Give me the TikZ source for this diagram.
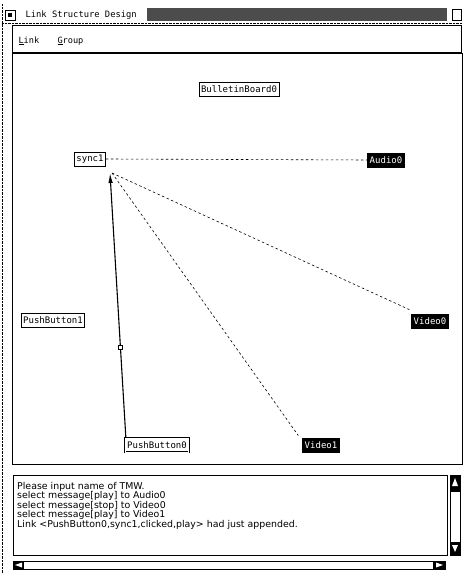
\documentclass[tikz,border=0pt]{standalone}
\usepackage{fontspec}
\setmonofont{DejaVu Sans Mono}
\setsansfont{DejaVu Sans}
\usetikzlibrary{arrows.meta}
\definecolor{noisegray}{gray}{0.3}

\begin{document}
\begin{tikzpicture}
    [x=1pt,y=-1pt,
     obj/.style={draw,line width=0.8pt,inner sep=2pt,minimum height=14pt,
                 font=\ttfamily\fontsize{9}{10}\selectfont},
     media/.style={obj,fill=black,text=white},
     pressed/.style={obj,line width=0.7pt,double,double distance=0.8pt},
     link/.style={line width=0.6pt,dash pattern=on 2.5pt off 2.5pt},
     frame/.style={draw,line width=1pt},
     scrollend/.style={fill=black}]

    \useasboundingbox (0,0) rectangle (463,573);

% window border and title bar
\draw[densely dotted] (2,4) -- (2,573);
\draw[densely dotted] (2,23) -- (463,23);
\draw (5,10) rectangle (15,20);
\fill (8,13) rectangle (12,17);
\node[anchor=west,font=\ttfamily\fontsize{8.8}{10}\selectfont] (title) at (22,15) {Link Structure Design};
\fill[noisegray] (147,8) rectangle (447,21);
\draw (452,9) rectangle (461,20);

% menu bar
\draw[frame] (12,25) rectangle (461,53);
\draw[line width=2pt] (12,53) -- (461,53);
\node[anchor=west,font=\ttfamily\fontsize{8.6}{10}\selectfont] (mlink) at (15,41) {\underline{L}ink};
\node[anchor=west,font=\ttfamily\fontsize{8.6}{10}\selectfont] (mgroup) at (54,41) {\underline{G}roup};

% canvas
\draw[frame] (12,53) rectangle (462,464);

\node[obj] (bb0) at (239,89) {BulletinBoard0};
\node[obj] (s1) at (90,159) {sync1};
\node[media] (a0) at (386,160) {Audio0};
\node[obj] (pb1) at (53,320) {PushButton1};
\node[media] (v0) at (430,321) {Video0};
\node[pressed] (pb0) at (157,445) {PushButton0};
\node[media] (v1) at (321,445) {Video1};
\coordinate (hub) at (110,173);

\draw[link] (s1.east) -- (a0.west);
\draw[link] ([xshift=2pt]hub) -- ([xshift=-2pt,yshift=4pt]v0.north west);
\draw[link] ([xshift=2pt]hub) -- ([xshift=-4pt,yshift=2pt]v1.north west);
\draw[line width=1.1pt,-{Latex[length=10pt,width=4.5pt]}] ([xshift=1pt]pb0.north west) -- node[pos=0.34,draw,fill=white,line width=0.6pt,minimum size=4pt,inner sep=0pt] (mark) {} (hub);

% message log
\draw[frame] (13,475) rectangle (447,555);
\node[anchor=north west,align=left,inner sep=0pt,font=\sffamily\fontsize{9.4}{9.5}\selectfont] (log) at (17,482)
  {Please input name of TMW.\\
   select message[play] to Audio0\\
   select message[stop] to Video0\\
   select message[play] to Video1\\
   Link <PushButton0,sync1,clicked,play> had just appended.};

% scroll bars
\draw[frame] (450,475) rectangle (460,555);
\fill[scrollend] (450,475) rectangle (460,492);
\fill[white] (455,478) -- (452,486) -- (458,486) -- cycle;
\fill[scrollend] (450,542) rectangle (460,555);
\fill[white] (455,552) -- (452,545) -- (458,545) -- cycle;
\draw[frame] (13,561) rectangle (445,569);
\fill[scrollend] (13,561) rectangle (24,569);
\fill[white] (15,565) -- (22,562.5) -- (22,567.5) -- cycle;
\fill[scrollend] (433,561) rectangle (445,569);
\fill[white] (443,565) -- (436,562.5) -- (436,567.5) -- cycle;

  \end{tikzpicture}
\end{document}
